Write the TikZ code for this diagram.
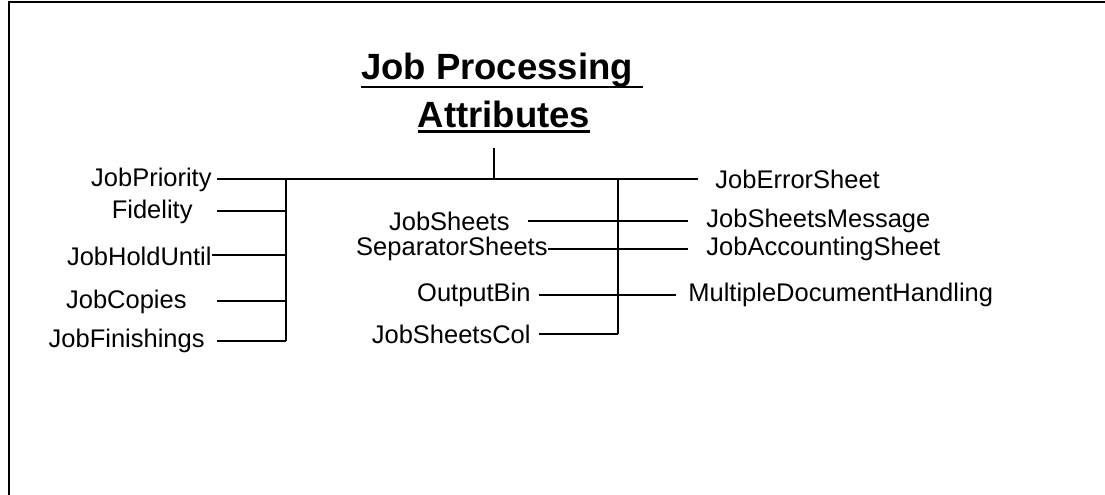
\documentclass[tikz,border=0pt]{standalone}
\usepackage{fontspec}
\setmainfont{Liberation Sans}
\newcommand\titleul[2]{\setbox0\hbox{#2}\rlap{\rule[-#1]{\wd0}{1.4pt}}\box0}
\begin{document}
\begin{tikzpicture}[x=0.5pt,y=-0.5pt,
  lbl/.style={inner sep=0pt,font=\fontsize{12.75pt}{15pt}\selectfont},
  ttl/.style={inner sep=0pt,font=\fontsize{18.25pt}{24pt}\selectfont\bfseries},
  conn/.style={line width=1pt},
  frame/.style={line width=1.1pt}]
\useasboundingbox (0,0) rectangle (1105,494);
% frame (open to the right and bottom)
\coordinate (fa) at (9,520);
\coordinate (fb) at (9,2.3);
\coordinate (fc) at (1130,2.3);
\draw[frame] (fa) -- (fb) -- (fc);
% title
\node[ttl,anchor=base] (t1) at (502,79) {\titleul{4.7pt}{Job Processing\ }};
\node[ttl,anchor=base] (t2) at (504,127.5) {\titleul{2.7pt}{Attributes}};
\coordinate (stemtop) at (494,148);
\coordinate (root) at (494,179);
% junctions
\coordinate (lj) at (286,179);
\coordinate (mj) at (618,179);
% left labels
\node[lbl,anchor=east] (jp) at (212,180) {JobPriority};
\node[lbl,anchor=east] (fi) at (193,212) {Fidelity};
\node[lbl,anchor=east] (jh) at (212,256) {JobHoldUntil};
\node[lbl,anchor=east] (jc) at (187,302) {JobCopies};
\node[lbl,anchor=east] (jf) at (205,341) {JobFinishings};
% middle labels
\node[lbl,anchor=east] (js) at (510,221) {JobSheets};
\node[lbl,anchor=east] (ss) at (548,249) {SeparatorSheets};
\node[lbl,anchor=east] (ob) at (531,295) {OutputBin};
\node[lbl,anchor=east] (jsc) at (531,334) {JobSheetsCol};
% right labels
\node[lbl,anchor=west] (je) at (715,179) {JobErrorSheet};
\node[lbl,anchor=west] (jsm) at (706,221) {JobSheetsMessage};
\node[lbl,anchor=west] (ja) at (706,249) {JobAccountingSheet};
\node[lbl,anchor=west] (md) at (688,295) {MultipleDocumentHandling};
% bus ends
\coordinate (lend) at (286,341);
\coordinate (mend) at (618,334);
% connectors
\draw[conn] (stemtop) -- (root);
\draw[conn] ([xshift=2.5pt]jp.east |- root) -- (root) -- ([xshift=-8.5pt]je.west |- root);
\draw[conn] (lj) -- (lend);
\draw[conn] (mj) -- (mend);
\draw[conn] ([xshift=12pt,yshift=0.5pt]fi.east) -- ([yshift=0.5pt]fi.east -| lj);
\draw[conn] ([yshift=0.5pt]jh.east) -- ([yshift=0.5pt]jh.east -| lj);
\draw[conn] ([xshift=15pt,yshift=0.5pt]jc.east) -- ([yshift=0.5pt]jc.east -| lj);
\draw[conn] ([xshift=6pt]jf.east) -- (jf.east -| lj);
\draw[conn] ([xshift=9pt]js.east) -- ([xshift=-9pt]jsm.west |- js.east);
\draw[conn] (ss.east) -- ([xshift=-9pt]ja.west |- ss.east);
\draw[conn] ([xshift=4pt]ob.east) -- ([xshift=-6pt]md.west |- ob.east);
\draw[conn] ([xshift=4pt]jsc.east) -- (jsc.east -| mj);
\end{tikzpicture}
\end{document}
